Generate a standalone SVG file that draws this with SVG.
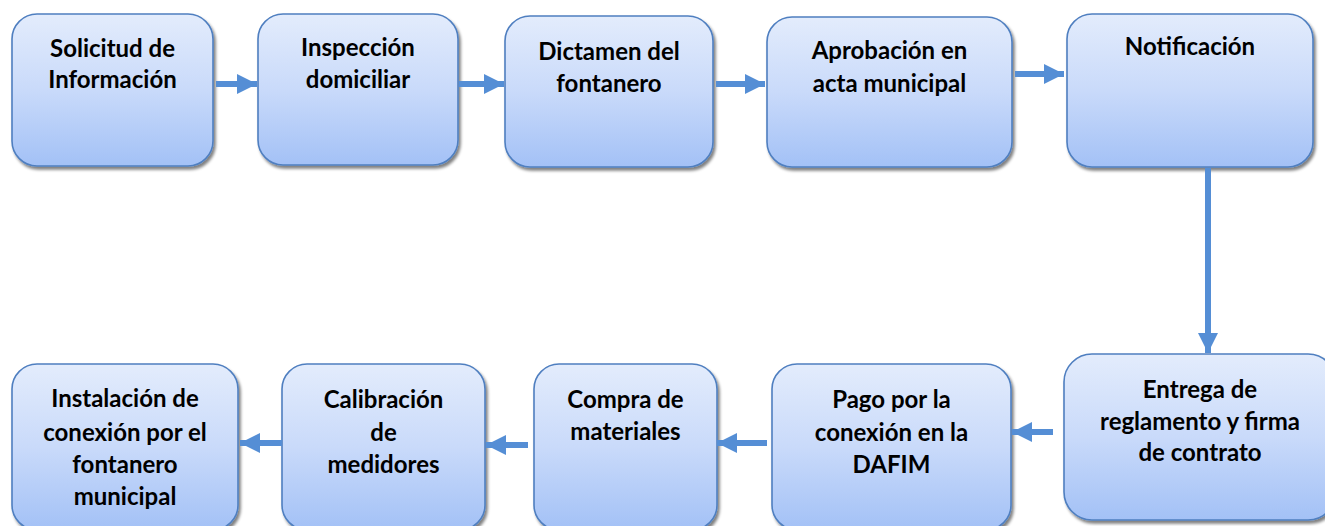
<svg xmlns="http://www.w3.org/2000/svg" width="1325" height="526" viewBox="0 0 1325 526">
<defs>
<linearGradient id="g" x1="0" y1="0" x2="0" y2="1">
<stop offset="0" stop-color="#e3ecfc"/>
<stop offset="0.5" stop-color="#c9dafa"/>
<stop offset="1" stop-color="#a3c1f6"/>
</linearGradient>
<filter id="sh" x="-10%" y="-10%" width="130%" height="130%">
<feGaussianBlur in="SourceAlpha" stdDeviation="1.5"/>
<feOffset dx="2" dy="3" result="b"/>
<feComponentTransfer><feFuncA type="linear" slope="0.5"/></feComponentTransfer>
<feMerge><feMergeNode/><feMergeNode in="SourceGraphic"/></feMerge>
</filter>
<marker id="ah" viewBox="0 0 10 10" refX="10" refY="5" markerWidth="3.4" markerHeight="3.4" markerUnits="strokeWidth" orient="auto">
<path d="M0,0 L10,5 L0,10 z" fill="#558ed5"/>
</marker>
</defs>
<style>
.box{fill:url(#g);stroke:#4f7fc0;stroke-width:1.6;filter:url(#sh)}
.t{font-family:Lato,"Liberation Sans",sans-serif;font-weight:700;font-size:24px;fill:#000;text-anchor:middle}
.c{stroke:#558ed5;stroke-width:6;fill:none;marker-end:url(#ah)}
</style>
<g id="n1"><rect class="box" x="12" y="14" width="201" height="152" rx="25"/><text class="t" x="112.5" y="57">Solicitud de</text><text class="t" x="112.5" y="88">Información</text></g>
<g id="n2"><rect class="box" x="258" y="14" width="200" height="151" rx="25"/><text class="t" x="358" y="56">Inspección</text><text class="t" x="358" y="88">domiciliar</text></g>
<g id="n3"><rect class="box" x="505" y="16" width="208" height="151" rx="25"/><text class="t" x="609" y="60">Dictamen del</text><text class="t" x="609" y="92">fontanero</text></g>
<g id="n4"><rect class="box" x="767" y="17" width="245" height="150" rx="25"/><text class="t" x="889.5" y="59">Aprobación en</text><text class="t" x="889.5" y="92">acta municipal</text></g>
<g id="n5"><rect class="box" x="1067" y="14" width="246" height="153" rx="25"/><text class="t" x="1190" y="55">Notificación</text></g>
<g id="n6"><rect class="box" x="1064" y="354" width="272" height="166" rx="28"/><text class="t" x="1200" y="398">Entrega de</text><text class="t" x="1200" y="430">reglamento y firma</text><text class="t" x="1200" y="461">de contrato</text></g>
<g id="n7"><rect class="box" x="772" y="364" width="239" height="166" rx="25"/><text class="t" x="891.5" y="408">Pago por la</text><text class="t" x="891.5" y="441">conexión en la</text><text class="t" x="891.5" y="473">DAFIM</text></g>
<g id="n8"><rect class="box" x="534" y="364" width="183" height="166" rx="25"/><text class="t" x="625.5" y="408">Compra de</text><text class="t" x="625.5" y="440">materiales</text></g>
<g id="n9"><rect class="box" x="282" y="364" width="203" height="166" rx="25"/><text class="t" x="383.5" y="408">Calibración</text><text class="t" x="383.5" y="441">de</text><text class="t" x="383.5" y="473">medidores</text></g>
<g id="n10"><rect class="box" x="12" y="364" width="226" height="166" rx="25"/><text class="t" x="125" y="407">Instalación de</text><text class="t" x="125" y="441">conexión por el</text><text class="t" x="125" y="473">fontanero</text><text class="t" x="125" y="505">municipal</text></g>
<g id="connectors">
<line class="c" x1="216" y1="84" x2="257" y2="84"/>
<line class="c" x1="459" y1="84" x2="504" y2="84"/>
<line class="c" x1="716" y1="84" x2="765" y2="84"/>
<line class="c" x1="1015" y1="74" x2="1064" y2="74"/>
<line class="c" x1="1208" y1="168" x2="1208" y2="353"/>
<line class="c" x1="1053" y1="432" x2="1012" y2="432"/>
<line class="c" x1="767" y1="443" x2="717" y2="443"/>
<line class="c" x1="528" y1="445" x2="486" y2="445"/>
<line class="c" x1="282" y1="443" x2="240" y2="443"/>
</g>
</svg>
